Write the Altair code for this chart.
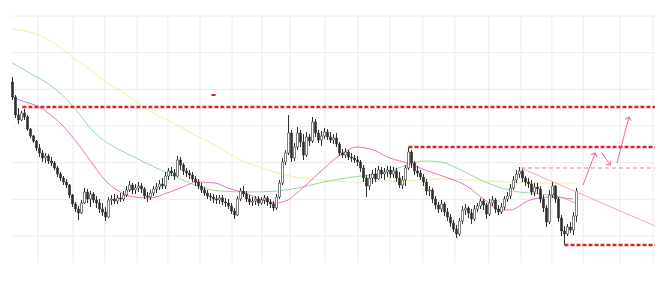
import math
import altair as alt
import pandas as pd

# ---- candle data (one bar per session) ----
opens = [21.8, 20.3, 18.5, 18.0, 18.7, 18.3, 17.1, 16.4, 15.9, 15.2,
         14.7, 14.2, 14.4, 13.9, 13.7, 13.2, 12.6, 12.2, 11.8, 11.5,
         10.5, 9.6, 9.1, 8.7, 9.7, 10.8, 10.1, 10.6, 10.0, 9.7,
         9.1, 8.8, 8.3, 10.0, 10.1, 9.9, 10.2, 10.1, 10.5, 11.0,
         11.5, 11.0, 11.2, 11.4, 11.1, 10.4, 10.3, 10.7, 11.1, 11.3,
         11.6, 11.4, 12.4, 12.9, 12.7, 12.4, 14.0, 13.5, 12.9, 12.7,
         12.5, 12.1, 11.8, 11.4, 11.0, 10.7, 10.4, 10.3, 10.1, 10.0,
         10.2, 9.8, 9.7, 9.4, 8.9, 8.5, 10.1, 10.9, 10.6, 10.1,
         9.8, 9.9, 10.1, 9.7, 10.0, 10.2, 9.8, 9.6, 9.2, 10.3,
         11.7, 13.8, 14.7, 16.7, 14.2, 15.3, 16.7, 15.8, 14.5, 16.3,
         15.9, 17.8, 16.7, 16.0, 16.4, 16.8, 16.3, 16.0, 16.2, 15.6,
         14.7, 14.5, 14.8, 14.3, 14.2, 14.0, 13.8, 13.2, 12.2, 11.4,
         12.2, 12.6, 12.1, 13.0, 12.6, 12.8, 13.0, 12.6, 12.9, 12.2,
         11.5, 12.0, 13.2, 14.8, 13.7, 12.9, 12.7, 12.3, 11.8, 10.9,
         11.0, 10.1, 9.5, 9.1, 9.6, 8.8, 8.3, 7.7, 7.1, 6.6,
         7.9, 9.0, 9.2, 8.7, 8.1, 9.1, 9.4, 9.9, 9.5, 8.6,
         9.7, 10.0, 9.1, 8.8, 9.3, 10.1, 10.4, 11.2, 12.0, 12.6,
         12.9, 12.2, 11.8, 11.6, 10.8, 11.3, 11.1, 10.1, 9.2, 7.8,
         10.5, 11.4, 10.1, 8.2, 6.9, 6.6, 7.3, 7.0, 8.4]
highs = [22.3, 20.5, 19.2, 18.9, 19.1, 18.5, 17.2, 16.5, 16.0, 15.6,
         15.0, 14.7, 14.6, 14.3, 13.9, 13.4, 12.8, 12.4, 12.1, 11.6,
         10.6, 9.8, 9.4, 10.0, 11.2, 11.1, 10.9, 10.8, 10.4, 10.1,
         9.7, 9.3, 10.3, 10.5, 10.6, 10.5, 10.7, 10.9, 11.4, 11.9,
         11.7, 11.6, 11.8, 11.7, 11.3, 10.8, 11.0, 11.4, 11.7, 12.0,
         12.2, 12.8, 13.2, 13.3, 13.1, 14.4, 14.3, 13.7, 13.2, 13.0,
         12.8, 12.4, 12.1, 11.7, 11.3, 11.0, 10.7, 10.6, 10.5, 10.5,
         10.5, 10.2, 10.1, 9.7, 9.2, 10.4, 11.2, 11.4, 10.9, 10.5,
         10.3, 10.4, 10.4, 10.3, 10.5, 10.4, 10.1, 9.9, 10.6, 12.0,
         14.2, 15.0, 18.5, 17.0, 15.7, 17.3, 17.0, 16.6, 16.8, 16.6,
         18.3, 18.1, 17.0, 16.9, 17.2, 17.1, 16.8, 16.6, 16.7, 15.8,
         15.1, 15.2, 15.0, 14.7, 14.5, 14.4, 14.0, 13.5, 12.5, 12.6,
         13.0, 13.2, 13.4, 13.3, 13.2, 13.4, 13.4, 13.3, 13.2, 12.8,
         12.4, 13.5, 15.3, 15.0, 13.9, 13.4, 13.0, 12.6, 12.1, 11.4,
         11.2, 10.4, 9.8, 10.0, 9.8, 9.2, 8.6, 8.0, 7.5, 8.2,
         9.4, 9.6, 9.4, 9.1, 9.5, 9.7, 10.2, 10.1, 9.7, 10.1,
         10.4, 10.2, 9.5, 9.7, 10.4, 10.8, 11.6, 12.4, 13.0, 13.3,
         13.2, 12.4, 12.2, 12.0, 11.7, 11.7, 11.4, 10.5, 9.5, 11.0,
         11.8, 11.5, 10.3, 8.5, 7.4, 7.6, 7.8, 8.8, 11.2]
lows = [20.0, 18.2, 17.6, 17.9, 18.0, 16.9, 16.2, 15.7, 14.9, 14.3,
        13.8, 13.7, 13.6, 13.4, 13.0, 12.3, 11.9, 11.5, 11.2, 10.2,
        9.3, 8.8, 8.0, 8.6, 9.6, 9.7, 9.3, 9.7, 9.2, 8.7,
        8.4, 7.9, 8.2, 9.5, 9.6, 9.6, 9.8, 9.9, 10.3, 10.8,
        10.6, 10.6, 10.8, 10.7, 10.1, 9.8, 10.0, 10.4, 10.7, 11.0,
        11.1, 11.1, 12.0, 12.4, 12.0, 12.3, 13.0, 12.5, 12.3, 12.1,
        11.8, 11.4, 11.1, 10.7, 10.4, 10.1, 9.9, 9.7, 9.6, 9.6,
        9.5, 9.3, 9.1, 8.6, 8.1, 8.4, 9.9, 10.3, 9.8, 9.5,
        9.4, 9.5, 9.4, 9.5, 9.6, 9.4, 9.2, 8.9, 9.0, 10.1,
        11.5, 13.5, 14.5, 13.8, 13.9, 15.0, 15.3, 14.0, 14.3, 15.4,
        15.7, 16.3, 15.7, 15.4, 16.1, 16.0, 15.7, 15.6, 15.3, 14.4,
        14.2, 14.2, 14.0, 13.8, 13.7, 13.4, 12.8, 11.8, 10.3, 11.0,
        11.6, 11.8, 12.0, 12.2, 12.0, 12.3, 12.2, 12.2, 11.8, 11.2,
        11.1, 11.4, 13.0, 13.2, 12.5, 12.3, 12.0, 11.4, 10.5, 10.4,
        9.7, 9.1, 8.7, 8.8, 8.4, 7.9, 7.3, 6.8, 6.2, 6.4,
        7.6, 8.5, 8.2, 7.6, 7.9, 8.8, 9.1, 9.0, 8.1, 8.4,
        9.4, 8.7, 8.5, 8.6, 9.0, 9.8, 10.1, 11.0, 11.7, 12.2,
        11.8, 11.4, 11.2, 10.5, 10.4, 10.6, 9.7, 8.8, 7.3, 7.6,
        10.2, 9.7, 7.8, 6.4, 5.5, 6.4, 6.7, 6.5, 7.8]
closes = [20.3, 18.5, 18.0, 18.7, 18.3, 17.1, 16.4, 15.9, 15.2, 14.7,
          14.2, 14.4, 13.9, 13.7, 13.2, 12.6, 12.2, 11.8, 11.5, 10.5,
          9.6, 9.1, 8.7, 9.7, 10.8, 10.1, 10.6, 10.0, 9.7, 9.1,
          8.8, 8.3, 10.0, 10.1, 9.9, 10.2, 10.1, 10.5, 11.0, 11.5,
          11.0, 11.2, 11.4, 11.1, 10.4, 10.3, 10.7, 11.1, 11.3, 11.6,
          11.4, 12.4, 12.9, 12.7, 12.4, 14.0, 13.5, 12.9, 12.7, 12.5,
          12.1, 11.8, 11.4, 11.0, 10.7, 10.4, 10.3, 10.1, 10.0, 10.2,
          9.8, 9.7, 9.4, 8.9, 8.5, 10.1, 10.9, 10.6, 10.1, 9.8,
          9.9, 10.1, 9.7, 10.0, 10.2, 9.8, 9.6, 9.2, 10.3, 11.7,
          13.8, 14.7, 16.7, 14.2, 15.3, 16.7, 15.8, 14.5, 16.3, 15.9,
          17.8, 16.7, 16.0, 16.4, 16.8, 16.3, 16.0, 16.2, 15.6, 14.7,
          14.5, 14.8, 14.3, 14.2, 14.0, 13.8, 13.2, 12.2, 11.4, 12.2,
          12.6, 12.1, 13.0, 12.6, 12.8, 13.0, 12.6, 12.9, 12.2, 11.5,
          12.0, 13.2, 14.8, 13.7, 12.9, 12.7, 12.3, 11.8, 10.9, 11.0,
          10.1, 9.5, 9.1, 9.6, 8.8, 8.3, 7.7, 7.1, 6.6, 7.9,
          9.0, 9.2, 8.7, 8.1, 9.1, 9.4, 9.9, 9.5, 8.6, 9.7,
          10.0, 9.1, 8.8, 9.3, 10.1, 10.4, 11.2, 12.0, 12.6, 12.9,
          12.2, 11.8, 11.6, 10.8, 11.3, 11.1, 10.1, 9.2, 7.8, 10.5,
          11.4, 10.1, 8.2, 6.9, 6.6, 7.3, 7.0, 8.4, 10.9]

# ---- moving averages (bar index, value) ----
ma_long_x = [0, 6.8, 14.8, 19.8, 24.8, 30.2, 38.2, 43.5, 53.5, 60.8, 67.5, 71.8, 77.5,
             83.2, 88.5, 94.2, 103.5, 114.8, 125.8, 135.8, 142.5, 153.5, 164.8, 175.8, 188.2]
ma_long_y = [27.1, 26.7, 25.5, 24.3, 23.3, 22.0, 20.5, 19.3, 17.7, 16.5, 15.5, 14.7, 13.8,
             13.2, 12.7, 12.3, 12.0, 11.8, 11.9, 12.0, 12.1, 12.0, 11.8, 11.7, 11.7]
ma_mid_x = [0, 6.8, 12.5, 19.8, 22.5, 26.5, 30.2, 35.8, 42.5, 51.5, 58.2, 62.5, 69.2, 79.2,
            88.2, 96.8, 103.5, 113.5, 124.8, 131.5, 137.5, 142.5, 150.8, 157.5, 166.8, 175.8,
            182.5, 188.2]
ma_mid_y = [23.7, 22.5, 21.5, 19.5, 18.5, 17.0, 16.0, 15.0, 14.0, 12.7, 11.8, 11.3, 10.9, 10.8,
            10.9, 11.3, 11.8, 12.3, 12.8, 13.5, 13.9, 13.8, 12.8, 11.8, 10.9, 10.6, 10.3, 9.6]
ma_short_x = [0, 4.2, 7.5, 11.8, 16.5, 20.8, 25.8, 30.8, 34.8, 40.2, 45.8, 51.5, 56.8, 61.5,
              67.5, 71.8, 77.5, 83.2, 87.5, 91.8, 94.8, 98.2, 102.5, 109.2, 114.8, 120.2, 125.8,
              131.5, 137.5, 144.2, 150.8, 157.5, 162.5, 165.8, 172.5, 179.2, 186.8]
ma_short_y = [20.3, 19.8, 19.5, 18.7, 17.5, 16.0, 14.0, 12.0, 11.0, 10.3, 10.2, 10.7, 11.3, 11.8,
              11.7, 11.2, 10.7, 10.0, 9.7, 10.0, 10.7, 11.6, 12.8, 14.5, 15.3, 15.0, 14.2,
              13.7, 13.0, 12.3, 11.5, 10.0, 9.0, 9.0, 10.0, 10.3, 10.1]

# ---- annotations ----
X_END = 214.17
level_x = [3.3, 132.0, 184.0]
level_y = [19.3, 15.3, 5.5]
minor_level_x = [169.5]
minor_level_y = [13.2]
mark_x, mark_x2, mark_y = [66.3], [67.7], [20.5]
trend_x, trend_y = [169.5, X_END], [13.2, 7.4]
arrow_x1 = [190.2, 196.5, 201.5]
arrow_y1 = [11.5, 14.7, 13.7]
arrow_x2 = [194.2, 199.2, 205.5]
arrow_y2 = [14.7, 13.5, 18.3]

x_grid = [8.5, 20.2, 30.8, 41.5, 51.8, 62.5, 73.2, 83.2, 92.5, 104.2, 115.2, 125.8,
          136.8, 147.5, 158.8, 169.5, 179.8, 190.2, 202.5, 213.5]
y_grid = [6.4, 10.07, 13.73, 17.4, 21.07, 24.73, 28.4]

W, H = 643, 247
XD = [-0.17, X_END]
YD = [3.7, 28.4]
xs = alt.Scale(domain=XD, nice=False, zero=False, padding=0)
ys = alt.Scale(domain=YD, nice=False, zero=False, padding=0)


def X(f):
    return alt.X(f, scale=xs, axis=None)


def Y(f):
    return alt.Y(f, scale=ys, axis=None)


df = pd.DataFrame({"i": list(range(len(closes))), "open": opens, "high": highs,
                   "low": lows, "close": closes})
df["up"] = df["close"] >= df["open"]

GRID = "#ececec"
vgrid = alt.Chart(pd.DataFrame({"g": x_grid})).mark_rule(color=GRID, strokeWidth=1).encode(
    x=X("g:Q"), y=alt.value(0), y2=alt.value(H))
hgrid = alt.Chart(pd.DataFrame({"g": y_grid})).mark_rule(color=GRID, strokeWidth=1).encode(
    y=Y("g:Q"), x=alt.value(0), x2=alt.value(W))

wicks = alt.Chart(df).mark_rule(color="#2e2e2e", strokeWidth=1).encode(
    x=X("i:Q"), y=Y("low:Q"), y2="high:Q")
bodies = alt.Chart(df).mark_bar(width=2, stroke="#2e2e2e", strokeWidth=0.6).encode(
    x=X("i:Q"), y=Y("open:Q"), y2="close:Q",
    fill=alt.condition(alt.datum.up, alt.value("#ffffff"), alt.value("#2e2e2e")),
)


def ma_layer(xv, yv, color):
    d = pd.DataFrame({"i": xv, "v": yv})
    return alt.Chart(d).mark_line(color=color, strokeWidth=1, interpolate="monotone").encode(
        x=X("i:Q"), y=Y("v:Q"))


ma_long = ma_layer(ma_long_x, ma_long_y, "#f3ef9c")
ma_mid = ma_layer(ma_mid_x, ma_mid_y, "#93d9a4")
ma_short = ma_layer(ma_short_x, ma_short_y, "#ea72c2")

lv = pd.DataFrame({"x": level_x, "x2": [X_END] * len(level_x), "y": level_y})
levels = alt.Chart(lv).mark_rule(color="#d42a2a", strokeWidth=2.5, strokeDash=[4, 2]).encode(
    x=X("x:Q"), x2="x2:Q", y=Y("y:Q"))

mlv = pd.DataFrame({"x": minor_level_x, "x2": [X_END], "y": minor_level_y})
minor_levels = alt.Chart(mlv).mark_rule(color="#e9849a", strokeWidth=1, strokeDash=[4, 3]).encode(
    x=X("x:Q"), x2="x2:Q", y=Y("y:Q"))

mk = pd.DataFrame({"x": mark_x, "x2": mark_x2, "y": mark_y})
small_mark = alt.Chart(mk).mark_rule(color="#d42a2a", strokeWidth=2).encode(
    x=X("x:Q"), x2="x2:Q", y=Y("y:Q"))

tr = pd.DataFrame({"x": trend_x, "y": trend_y})
trend = alt.Chart(tr).mark_line(color="#f4a9bd", strokeWidth=1).encode(
    x=X("x:Q"), y=Y("y:Q"))

px_per_x = W / (XD[1] - XD[0])
px_per_y = H / (YD[1] - YD[0])
angles = [math.degrees(math.atan2((b - a) * px_per_x, (d - c) * px_per_y))
          for a, b, c, d in zip(arrow_x1, arrow_x2, arrow_y1, arrow_y2)]
ar = pd.DataFrame({"x1": arrow_x1, "y1": arrow_y1, "x2": arrow_x2, "y2": arrow_y2,
                   "ang": angles})
arrow_lines = alt.Chart(ar).mark_rule(color="#ec6a93", strokeWidth=1).encode(
    x=X("x1:Q"), y=Y("y1:Q"), x2="x2:Q", y2="y2:Q")
arrow_heads = alt.Chart(ar).mark_point(shape="M-1,1L0,0L1,1", filled=False, color="#ec6a93",
                                       strokeWidth=1, size=40, opacity=1).encode(
    x=X("x2:Q"), y=Y("y2:Q"), angle=alt.Angle("ang:Q", scale=None))

chart = alt.layer(
    vgrid, hgrid, ma_long, ma_mid, ma_short, wicks, bodies, levels, minor_levels, small_mark,
    trend, arrow_lines, arrow_heads,
).properties(
    width=W, height=H, autosize="none",
    padding={"left": 12, "top": 16, "right": 5, "bottom": 18},
    background="#ffffff",
).configure_view(stroke=None)

chart.save("out.html", embed_options={"renderer": "svg", "actions": False})
